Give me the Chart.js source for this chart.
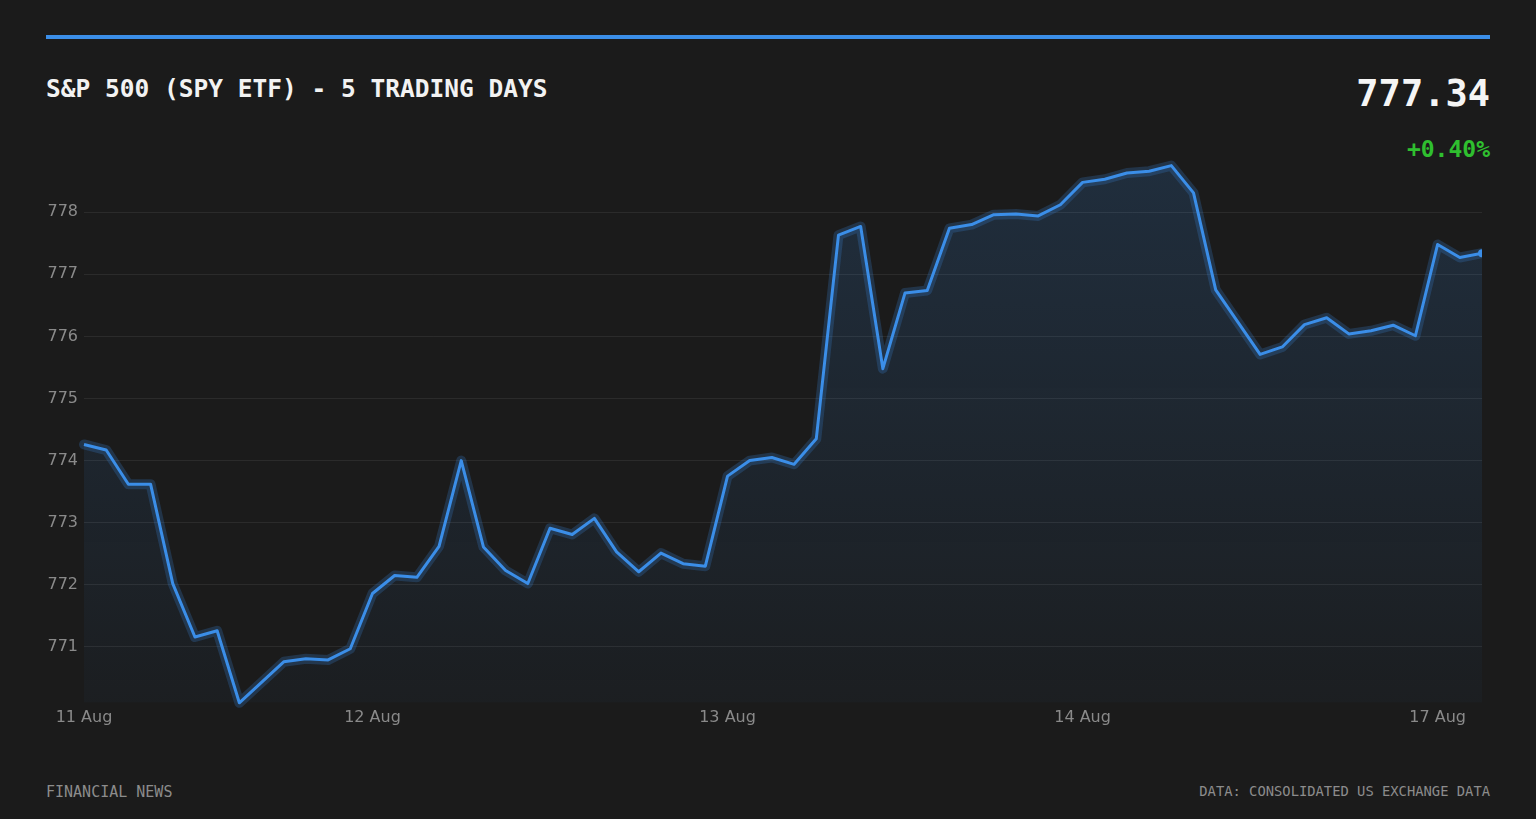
<!DOCTYPE html>
<html>
<head>
<meta charset="utf-8">
<script src="https://cdn.jsdelivr.net/npm/chart.js@4.4.1/dist/chart.umd.min.js"></script>
<style>
  html, body { margin: 0; padding: 0; background: #1b1b1b; }
  body { width: 1536px; height: 819px; position: relative; overflow: hidden; font-family: "DejaVu Sans Mono", monospace; }
  .topbar { position: absolute; left: 46px; top: 35px; width: 1444px; height: 4px; background: #3b8ee8; }
  .title { position: absolute; left: 46px; top: 74px; font-size: 24.5px; font-weight: bold; color: #f2f2f2; white-space: nowrap; }
  .price { position: absolute; right: 46px; top: 72px; font-size: 37px; font-weight: bold; color: #f5f5f5; }
  .change { position: absolute; right: 46px; top: 136px; font-size: 23px; font-weight: bold; color: #2fbf2f; }
  .foot-left { position: absolute; left: 46px; top: 783px; font-size: 15px; color: #8c8c8c; }
  .foot-right { position: absolute; right: 46px; top: 783px; font-size: 13.8px; color: #8c8c8c; }
  .chart-box { position: absolute; left: 46px; top: 150px; width: 1444px; height: 582px; }
</style>
</head>
<body>
<div class="topbar"></div>
<div class="title">S&amp;P 500 (SPY ETF) - 5 TRADING DAYS</div>
<div class="price">777.34</div>
<div class="change">+0.40%</div>
<div class="chart-box"><canvas id="chart"></canvas></div>
<div class="foot-left">FINANCIAL NEWS</div>
<div class="foot-right">DATA: CONSOLIDATED US EXCHANGE DATA</div>

<script>
// one label per intraday sample, the day name only where a new session starts
const labels = [
  '11 Aug', '', '', '', '', '', '', '', '', '', '', '', '',
  '12 Aug', '', '', '', '', '', '', '', '', '', '', '', '', '', '', '',
  '13 Aug', '', '', '', '', '', '', '', '', '', '', '', '', '', '', '',
  '14 Aug', '', '', '', '', '', '', '', '', '', '', '', '', '', '', '',
  '17 Aug', '', ''
];

const prices = [
  774.26, 774.17, 773.62, 773.62, 772.02, 771.16, 771.26, 770.10, 770.43, 770.76,
  770.81, 770.79, 770.97, 771.86, 772.15, 772.12, 772.62, 774.00, 772.61, 772.23,
  772.02, 772.91, 772.81, 773.07, 772.53, 772.21, 772.51, 772.34, 772.30, 773.75,
  774.00, 774.05, 773.94, 774.35, 777.63, 777.77, 775.48, 776.70, 776.74, 777.74,
  777.80, 777.96, 777.97, 777.94, 778.12, 778.48, 778.53, 778.63, 778.66, 778.75,
  778.31, 776.75, 776.23, 775.71, 775.83, 776.19, 776.30, 776.04, 776.09, 776.18,
  776.01, 777.48, 777.27, 777.34
];

const lineColor = '#3b8ee8';
const gridColor = 'rgba(255, 255, 255, 0.075)';
const tickColor = '#8a8a8a';

const ctx = document.getElementById('chart').getContext('2d');

const fillGradient = (context) => {
  const area = context.chart.chartArea;
  if (!area) return 'rgba(59, 142, 232, 0.1)';
  const g = context.chart.ctx.createLinearGradient(0, area.top, 0, area.bottom);
  g.addColorStop(0, 'rgba(59, 142, 232, 0.17)');
  g.addColorStop(1, 'rgba(59, 142, 232, 0.03)');
  return g;
};

new Chart(ctx, {
  type: 'line',
  data: {
    labels: labels,
    datasets: [
      {
        data: prices,
        borderColor: lineColor,
        borderWidth: 3,
        borderJoinStyle: 'round',
        tension: 0,
        fill: false,
        pointRadius: prices.map((v, i) => (i === prices.length - 1 ? 4 : 0)),
        pointBackgroundColor: lineColor,
        pointBorderWidth: 0,
        clip: { left: 6, top: 10, right: 0, bottom: 6 },
        order: 0
      },
      {
        // soft glow under the main line, also carries the area fill
        data: prices,
        borderColor: 'rgba(59, 142, 232, 0.22)',
        borderWidth: 10,
        borderJoinStyle: 'round',
        borderCapStyle: 'round',
        tension: 0,
        fill: 'start',
        backgroundColor: fillGradient,
        pointRadius: 0,
        clip: { left: 6, top: 10, right: 0, bottom: 6 },
        order: 1
      }
    ]
  },
  options: {
    responsive: true,
    maintainAspectRatio: false,
    animation: false,
    layout: { padding: { top: 2, right: 8, bottom: 0, left: 0 } },
    plugins: {
      legend: { display: false },
      tooltip: { enabled: false }
    },
    scales: {
      x: {
        grid: { display: false, drawTicks: false },
        border: { display: false },
        ticks: {
          autoSkip: false,
          maxRotation: 0,
          minRotation: 0,
          padding: 5,
          color: tickColor,
          font: { family: 'DejaVu Sans', size: 16 }
        }
      },
      y: {
        min: Math.min(...prices),
        max: Math.max(...prices),
        afterFit: (scale) => { scale.width = 38; },
        grid: { color: gridColor, drawTicks: false, lineWidth: 1 },
        border: { display: false },
        ticks: {
          stepSize: 1,
          includeBounds: false,
          padding: 6,
          color: tickColor,
          font: { family: 'DejaVu Sans', size: 16 }
        }
      }
    }
  }
});
</script>
</body>
</html>
